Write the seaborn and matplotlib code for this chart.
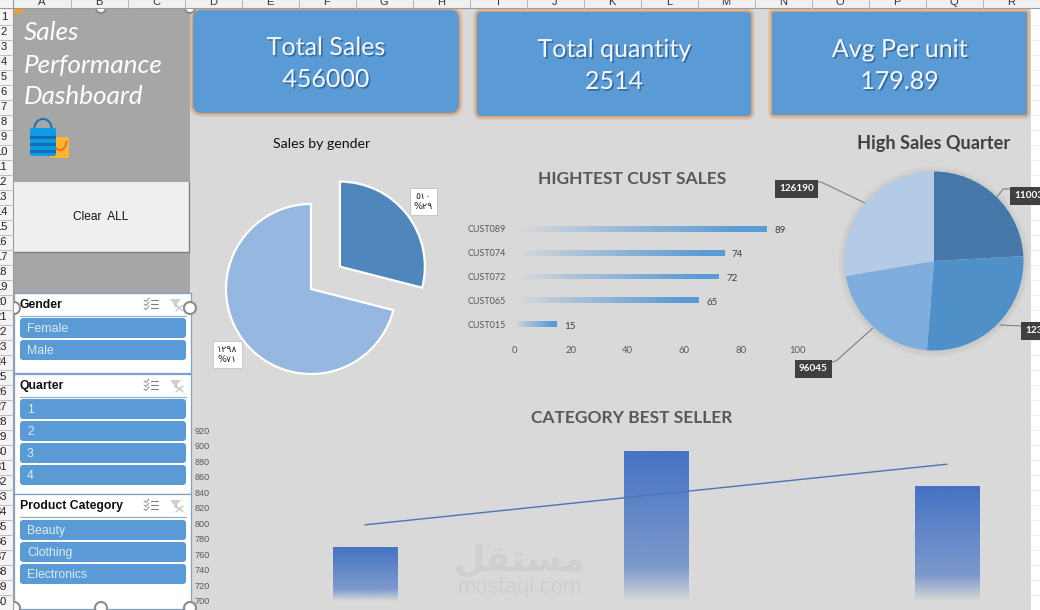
"""
Sales performance dashboard, redrawn from an Excel screenshot.
"""

import matplotlib
matplotlib.use('Agg')
import matplotlib.patheffects as pe
import matplotlib.pyplot as plt
import numpy as np
import pandas as pd
import seaborn as sns
from matplotlib.colors import to_rgb
from matplotlib.patches import Arc, Circle, FancyBboxPatch, Polygon, Rectangle

W, H = 1040, 610

kpi_titles = ['Total Sales', 'Total quantity', 'Avg Per unit']
kpi_values = ['456000', '2514', '179.89']

gender_share = [29, 71]
gender_count = [510, 1298]

customers = ['CUST089', 'CUST074', 'CUST072', 'CUST065', 'CUST015']
customer_sales = [89, 74, 72, 65, 15]

quarter_sales = [110030, 123735, 96045, 126190]

categories = ['Beauty', 'Clothing', 'Electronics']
category_sales = [770, 893, 848]
category_trend = [798, 837, 876]

quarters = ['1', '2', '3', '4']
genders = ['Female', 'Male']
columns = list('ABCDEFGHIJKLMNOPQR')

BLUE = '#5B9BD5'
PANEL = '#A6A6A6'
SHEET = '#D9D9D9'
TITLE_GREY = '#595959'
AR_DIGITS = str.maketrans('0123456789', '٠١٢٣٤٥٦٧٨٩')


def px_axes(fig, left, top, right, bottom, zorder=2):
    ax = fig.add_axes([left / W, 1 - bottom / H, (right - left) / W, (bottom - top) / H], zorder=zorder)
    ax.patch.set_alpha(0)
    return ax


def gradient_fill(ax, patch, color, alpha, horizontal):
    # paint a bar with an alpha ramp, clipped to the bar itself
    xlim, ylim = ax.get_xlim(), ax.get_ylim()
    box = patch.get_bbox()
    ramp = np.zeros((1, 256, 4)) if horizontal else np.zeros((256, 1, 4))
    ramp[..., :3] = to_rgb(color)
    ramp[..., 3] = alpha.reshape(ramp.shape[:2])
    # the value axis may not start at zero, so the ramp runs over the visible part
    y0 = max(box.y0, min(ylim))
    im = ax.imshow(ramp, extent=[box.x0, box.x1, y0, box.y1], origin='lower',
                   aspect='auto', zorder=patch.get_zorder(), interpolation='bilinear')
    im.set_clip_path(patch)
    patch.set_facecolor('none')
    ax.set_xlim(xlim)
    ax.set_ylim(ylim)


def draw_sheet(ax):
    ax.add_patch(Rectangle((0, 0), W, H, fc='white', ec='none', zorder=0))
    ax.add_patch(Rectangle((190, 8), 841, 602, fc=SHEET, ec='none', zorder=0))
    # header strips sit above the selection handles, which they partly hide
    ax.add_patch(Rectangle((0, 0), W, 8, fc='#F1F1F1', ec='none', zorder=7))
    ax.add_patch(Rectangle((0, 0), 13, H, fc='#F4F4F4', ec='none', zorder=7))
    ax.plot([0, W], [8, 8], color='#9A9A9A', lw=0.8, zorder=8)
    ax.plot([13, 13], [0, H], color='#9A9A9A', lw=0.8, zorder=8)
    for i, col in enumerate(columns):
        ax.plot([14 + 57 * (i + 1)] * 2, [0, 8], color='#B5B5B5', lw=0.7, zorder=8)
        ax.text(42 + 57 * i, 2, col, ha='center', va='center', fontsize=8,
                family='Liberation Sans', color='#333333', zorder=8)
    for row in range(1, 41):
        y = 17 + 15 * (row - 1)
        ax.plot([0, 13], [y + 7.5] * 2, color='#BDBDBD', lw=0.7, zorder=8)
        ax.plot([1031, W], [y + 7.5] * 2, color='#EDEDED', lw=0.6, zorder=0.5)
        ax.text(7, y, str(row), ha='right', va='center', fontsize=8,
                family='Liberation Sans', color='#222222', zorder=8)


def draw_side_panel(ax):
    ax.add_patch(Rectangle((14, 8), 176, 285, fc=PANEL, ec='none'))
    for i, word in enumerate(['Sales', 'Performance', 'Dashboard']):
        ax.text(24, 33 + 32 * i, word, fontsize=18.8, style='italic', color='white',
                family='Lato', va='center', ha='left')

    # shopping bags icon
    ax.add_patch(FancyBboxPatch((50, 137), 19, 21, boxstyle='round,pad=0,rounding_size=1.5',
                                fc='#FBB62D', ec='none'))
    ax.add_patch(Arc((60, 141), 13, 18, theta1=0, theta2=180, ec='#EE6A2C', lw=1.3))
    ax.add_patch(Arc((43, 128), 17, 18, theta1=180, theta2=360, ec='#1B75B5', lw=1.5))
    ax.add_patch(FancyBboxPatch((30, 128), 26, 28, boxstyle='round,pad=0,rounding_size=2',
                                fc='#0E9BE4', ec='none'))
    for y in (136, 143, 150):
        ax.add_patch(Rectangle((30, y), 26, 3, fc='#0F6FB0', ec='none'))

    # clear button
    ax.add_patch(Rectangle((14, 182), 175, 70, fc='#EFEFEF', ec='none'))
    ax.plot([14, 189, 189], [252, 252, 182], color='#808080', lw=1)
    ax.text(101, 217, 'Clear  ALL', ha='center', va='center', fontsize=8.6,
            family='Liberation Sans', color='#111111')


def draw_slicer(ax, top, bottom, title, items, first_button):
    ax.add_patch(Rectangle((14, top), 177, bottom - top, fc='white', ec='#7FA3C7', lw=0.9))
    ax.text(20, top + 12, title, fontsize=8.8, fontweight='bold', va='center',
            family='Liberation Sans', color='#111111')
    ax.plot([20, 186], [top + 22.5] * 2, color='#8FB0CF', lw=0.9)
    # multi-select and filter glyphs
    for dy in (-4, 0, 4):
        ax.plot([151, 158], [top + 11 + dy] * 2, color='#7F7F7F', lw=0.8)
        ax.plot([144, 146, 149], [top + 11 + dy, top + 12.5 + dy, top + 9 + dy], color='#8A8A8A', lw=0.7)
    ax.add_patch(Polygon([(170, top + 6), (181, top + 6), (177, top + 11), (177, top + 15), (174, top + 13), (174, top + 11)],
                         fc='#D0D0D0', ec='none'))
    ax.plot([176, 183], [top + 12, top + 18], color='#C4C4C4', lw=0.9)
    ax.plot([176, 183], [top + 18, top + 12], color='#C4C4C4', lw=0.9)
    for i, item in enumerate(items):
        y = first_button + 22 * i
        ax.add_patch(FancyBboxPatch((20, y), 166, 20, boxstyle='round,pad=0,rounding_size=3',
                                    fc=BLUE, ec='none'))
        ax.text(27, y + 11, item, fontsize=8.8, va='center', family='Liberation Sans', color='#DDEBF7')


def draw_handles(ax):
    for x, y, edge, size in [(190, 308, '#8C8C8C', 6), (14, 308, '#8C8C8C', 6), (190, 608, '#8C8C8C', 6),
                             (14, 608, '#8C8C8C', 6), (101, 608, '#8C8C8C', 6), (18, 8, '#E8A33A', 5),
                             (101, 8, '#8C8C8C', 5), (190, 8, '#8C8C8C', 5)]:
        fill = '#E8A33A' if edge == '#E8A33A' else 'white'
        ax.add_patch(Circle((x, y), size, fc=fill, ec=edge, lw=1.5, zorder=6))


def draw_cards(ax):
    boxes = [(193, 10, 459, 113, 9), (477, 12, 751, 116, 4), (772, 12, 1027, 115, 2)]
    shadow = [pe.SimplePatchShadow(offset=(1.2, -1.2), shadow_rgbFace='#2C5C8F', alpha=0.75), pe.Normal()]
    for (x0, y0, x1, y1, rad), name, value in zip(boxes, kpi_titles, kpi_values):
        for grow, alpha in ((4, 0.25), (2.5, 0.4), (1.2, 0.7)):
            ax.add_patch(FancyBboxPatch((x0, y0), x1 - x0, y1 - y0,
                                        boxstyle=f'round,pad={grow},rounding_size={rad + grow}',
                                        fc='#D99A69', ec='none', alpha=alpha))
        ax.add_patch(FancyBboxPatch((x0, y0), x1 - x0, y1 - y0,
                                    boxstyle=f'round,pad=0,rounding_size={rad}', fc=BLUE, ec='none'))
        cx = (x0 + x1) / 2
        dy = 2 if y0 > 10 else 0
        for text, y in ((name, 47.5 + dy), (value, 79.5 + dy)):
            ax.text(cx, y, text, ha='center', va='center', fontsize=18, family='Lato',
                    color='#F4F8FC', path_effects=shadow)


def draw_gender_pie(fig, top_ax):
    ax = px_axes(fig, 175, 153, 447, 425)
    ax.pie(gender_share, colors=['#4F86BC', '#95B7E0'], startangle=90, counterclock=False,
           explode=[0.43, 0], radius=1, wedgeprops={'edgecolor': 'white', 'linewidth': 1.6})
    ax.set_xlim(-1.6, 1.6)
    ax.set_ylim(-1.6, 1.6)
    top_ax.text(322, 144, 'Sales by gender', ha='center', va='center', fontsize=10.2,
                family='Lato', color='#111111')
    for (x, y), count, pct in zip([(423.5, 201.5), (227.5, 354.5)], gender_count, gender_share):
        top_ax.text(x, y, f'{count}\n%{pct}'.translate(AR_DIGITS), ha='center', va='center',
                    fontsize=6.8, family='DejaVu Sans', color='#222222', linespacing=1.2,
                    bbox={'boxstyle': 'square,pad=0.4', 'fc': 'white', 'ec': '#C8C8C8', 'lw': 0.7})


def draw_customer_bars(fig, top_ax):
    ax = px_axes(fig, 514, 217, 798, 336)
    df = pd.DataFrame({'customer': customers, 'sales': customer_sales})
    sns.barplot(data=df, y='customer', x='sales', orient='h', width=0.25, color=BLUE, saturation=1,
                edgecolor='none', linewidth=0, ax=ax)
    ax.set_xlim(0, 100)
    ax.set_xticks(range(0, 101, 20))
    ax.set(xlabel='', ylabel='')
    sns.despine(ax=ax, left=True, bottom=True)
    ax.tick_params(axis='both', length=0, labelcolor=TITLE_GREY)
    ax.tick_params(axis='x', pad=7, labelsize=6.8)
    ax.tick_params(axis='y', pad=6, labelsize=6.5)
    for text in ax.bar_label(ax.containers[0], padding=5.5, fontsize=7, color='#404040', family='Lato'):
        text.xyann = (text.xyann[0], text.xyann[1] - 1.5)
    for patch in ax.patches:
        span = np.linspace(0, 1, 256)
        gradient_fill(ax, patch, BLUE, np.clip(span * 1.15 - 0.03, 0, 1) ** 0.9, horizontal=True)
    for label in ax.get_xticklabels() + ax.get_yticklabels():
        label.set_family('Lato')
    top_ax.text(632.5, 179, 'HIGHTEST CUST SALES', ha='center', va='center', fontsize=12.6,
                fontweight='bold', family='Lato', color=TITLE_GREY)


def draw_quarter_pie(fig, top_ax):
    r = 89.5
    cx, cy = 934, 261
    ax = px_axes(fig, cx - 1.2 * r, cy - 1.2 * r, cx + 1.2 * r, cy + 1.2 * r)
    for grow in np.linspace(1.07, 1.005, 6):
        ax.add_patch(Circle((0, -0.01), grow, fc='#9A9A9A', ec='none', alpha=0.04))
    ax.pie(quarter_sales, colors=['#4578A9', '#5090C9', '#7FADDE', '#B4CBE8'], startangle=90,
           counterclock=False, radius=1, wedgeprops={'linewidth': 0, 'edgecolor': 'none'})
    ax.set_xlim(-1.2, 1.2)
    ax.set_ylim(-1.2, 1.2)
    top_ax.text(934, 143, 'High Sales Quarter', ha='center', va='center', fontsize=13.1,
                fontweight='bold', family='Lato', color='#404040')
    leaders = [[(1011, 189), (1003, 189), (997, 197)], [(1022, 326), (1000, 325)],
               [(828, 363), (836, 361), (873, 328)], [(816, 182), (821, 182), (865, 203)]]
    spots = [(1014, 196), (1025, 330.5), (799, 368.5), (779, 188.5)]
    for path, (x, y), value in zip(leaders, spots, quarter_sales):
        xs, ys = zip(*path)
        top_ax.plot(xs, ys, color='#7F7F7F', lw=0.8)
        top_ax.text(x, y, str(value), ha='left', va='center', fontsize=7.2, fontweight='bold',
                    family='Lato', color='white',
                    bbox={'boxstyle': 'square,pad=0.45', 'fc': '#404040', 'ec': 'none'})


def draw_category_chart(fig, top_ax):
    ax = px_axes(fig, 214, 430, 1031, 601)
    df = pd.DataFrame({'category': categories, 'sales': category_sales})
    sns.barplot(data=df, x='category', y='sales', width=0.22, color='#4472C4', saturation=1,
                edgecolor='none', linewidth=0, ax=ax)
    ax.set_ylim(700, 920)
    for patch in ax.patches:
        fade = np.interp(np.linspace(0, 1, 256), [0, 0.03, 0.22, 1], [0, 0.1, 0.62, 1])
        patch.set_zorder(2)
        gradient_fill(ax, patch, '#4472C4', fade, horizontal=False)
    sns.lineplot(x=range(len(categories)), y=category_trend, color='#4C74B5', lw=1, ax=ax)
    ax.set_xlim(-0.519, 2.289)
    ax.set_ylim(700, 920)
    ax.set_yticks(range(700, 921, 20))
    ax.set_xticks([])
    ax.set(xlabel='', ylabel='')
    sns.despine(ax=ax, left=True, bottom=True)
    ax.tick_params(axis='y', length=0, labelsize=6.6, labelcolor=TITLE_GREY, pad=3)
    for label in ax.get_yticklabels():
        label.set_family('Liberation Sans')
    top_ax.text(632, 418, 'CATEGORY BEST SELLER', ha='center', va='center', fontsize=12.5,
                fontweight='bold', family='Lato', color=TITLE_GREY)


def draw_watermark(ax):
    ax.text(520, 560, '\ufede\ufed8\ufe98\ufeb4\ufee3', ha='center', va='center', fontsize=26,
            fontweight='bold', family='DejaVu Sans', color='#CFCFCF')
    ax.text(520, 588, 'mostaql.com', ha='center', va='center', fontsize=15.8,
            family='Liberation Sans', color='#CFCFCF')


def main():
    sns.set_theme(style='white')
    plt.rcParams['font.family'] = ['Lato', 'DejaVu Sans']

    fig = plt.figure(figsize=(W / 100, H / 100), dpi=100)
    base = px_axes(fig, 0, 0, W, H, zorder=0)
    base.set_xlim(0, W)
    base.set_ylim(H, 0)
    base.axis('off')
    top = px_axes(fig, 0, 0, W, H, zorder=5)
    top.set_xlim(0, W)
    top.set_ylim(H, 0)
    top.axis('off')

    draw_sheet(base)
    draw_side_panel(base)
    draw_slicer(base, 293, 373, 'Gender', genders, 318)
    draw_slicer(base, 374, 494, 'Quarter', quarters, 399)
    draw_slicer(base, 494, 609, 'Product Category', categories, 520)
    draw_handles(base)
    draw_cards(base)
    draw_watermark(base)

    draw_gender_pie(fig, top)
    draw_customer_bars(fig, top)
    draw_quarter_pie(fig, top)
    draw_category_chart(fig, top)

    fig.savefig('out.png', dpi=100)
    plt.close(fig)


if __name__ == '__main__':
    main()
